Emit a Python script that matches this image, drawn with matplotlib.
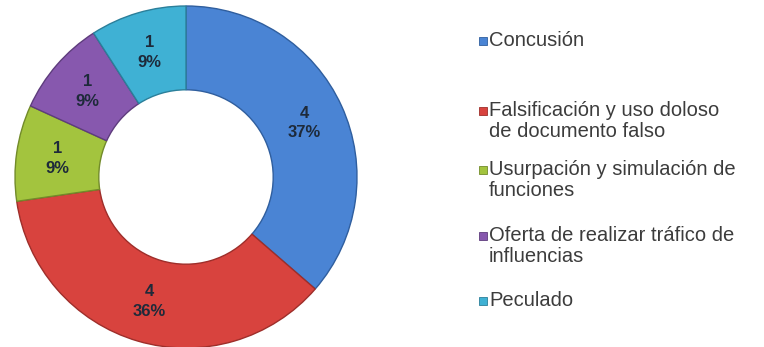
import matplotlib as mpl
import matplotlib.pyplot as plt
from matplotlib.patches import Rectangle

mpl.rcParams['font.family'] = ['Liberation Sans', 'DejaVu Sans']

#--------------------------------------------------
# data
#--------------------------------------------------
categories = ['Concusión',
              'Falsificación y uso doloso\nde documento falso',
              'Usurpación y simulación de\nfunciones',
              'Oferta de realizar tráfico de\ninfluencias',
              'Peculado']
counts = [4, 4, 1, 1, 1]
pct_labels = ['37%', '36%', '9%', '9%', '9%']
colors = ['#4A84D4', '#D8433E', '#A3C43E', '#8758AE', '#3FB1D4']
edges = ['#2F5E9E', '#9E2E2A', '#728B2A', '#5E3C7D', '#2B7F9A']

#--------------------------------------------------
# donut
#--------------------------------------------------
W, H = 764, 347
fig = plt.figure(figsize=(W / 100, H / 100), dpi=100)
cx, cy, r = 186, 177, 171
ax = fig.add_axes([(cx - r) / W, (H - cy - r) / H, 2 * r / W, 2 * r / H])

labels = ['%d\n%s' % (c, p) for c, p in zip(counts, pct_labels)]
wedges, texts = ax.pie(counts, colors=colors, startangle=90, counterclock=False,
                       radius=1, labels=labels, labeldistance=0.76,
                       wedgeprops=dict(width=0.49, linewidth=1.0),
                       textprops=dict(fontsize=12, fontweight='bold',
                                      color='#1E2A3A', ha='center', va='center',
                                      linespacing=1.4))
for w, e in zip(wedges, edges):
    w.set_edgecolor(e)
ax.set_xlim(-1, 1)
ax.set_ylim(-1, 1)
ax.set_aspect('equal')
ax.axis('off')

#--------------------------------------------------
# legend (hand placed, like the spreadsheet one)
#--------------------------------------------------
first_line = [41, 111, 170, 236, 301]   # px from top
line_gap = 20
for name, col, e, y1 in zip(categories, colors, edges, first_line):
    nlines = name.count('\n') + 1
    fig.patches.append(Rectangle((479 / W, (H - y1 - 4) / H), 8 / W, 8 / H,
                                 transform=fig.transFigure, facecolor=col,
                                 edgecolor=e, linewidth=0.6))
    yc = y1 + (nlines - 1) * line_gap / 2
    fig.text(489 / W, (H - yc) / H, name, fontsize=14.5, color='#3C3C3C',
             ha='left', va='center', linespacing=1.07)

plt.savefig('out.png', dpi=100)
